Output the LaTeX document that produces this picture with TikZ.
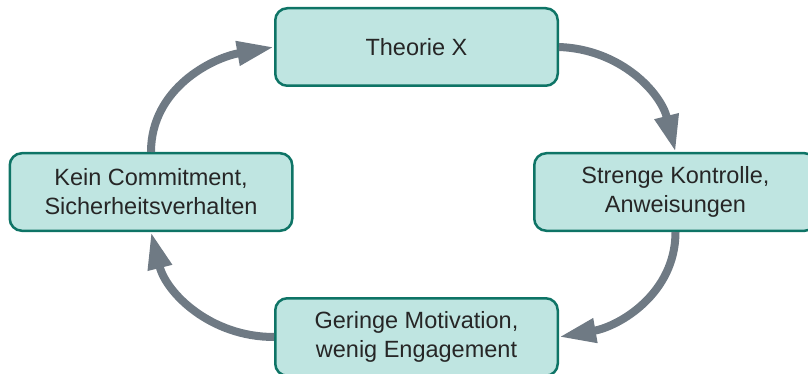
\documentclass[tikz,border=0pt]{standalone}
\usepackage{fontspec}
\setmainfont{Liberation Sans}
\usetikzlibrary{arrows.meta}

\definecolor{boxfill}{RGB}{191,229,225}
\definecolor{boxline}{RGB}{14,116,102}
\definecolor{flow}{RGB}{111,122,132}
\definecolor{ink}{RGB}{38,38,38}

\tikzset{
  stage/.style={draw=boxline, fill=boxfill, line width=2.5pt,
    rounded corners=12pt, minimum width=282.5pt, minimum height=77.5pt,
    align=center, text=ink, inner sep=0pt,
    font=\fontsize{23.5}{29}\selectfont},
  cycle/.style={draw=flow, line width=8pt,
    -{Triangle[length=37pt,width=23pt]}}
}

\begin{document}
\begin{tikzpicture}[x=1pt,y=1pt]
  \useasboundingbox (0,0) rectangle (808,-374);

  \node[stage] (theory)  at (416.5,-47)  {Theorie X};
  \node[stage] (control) at (675.5,-192) {Strenge Kontrolle,\\Anweisungen};
  \node[stage] (motiv)   at (416.5,-337) {Geringe Motivation,\\wenig Engagement};
  \node[stage] (commit)  at (151,-192)   {Kein Commitment,\\Sicherheitsverhalten};

  \draw[cycle] (theory.east) to[out=-2,in=104] (control.north);
  \draw[cycle] (control.south) to[out=-90,in=10] (motiv.east);
  \draw[cycle] (motiv.west) to[out=180,in=-76] (commit.south);
  \draw[cycle] (commit.north) to[out=90,in=190] (theory.west);
\end{tikzpicture}
\end{document}
